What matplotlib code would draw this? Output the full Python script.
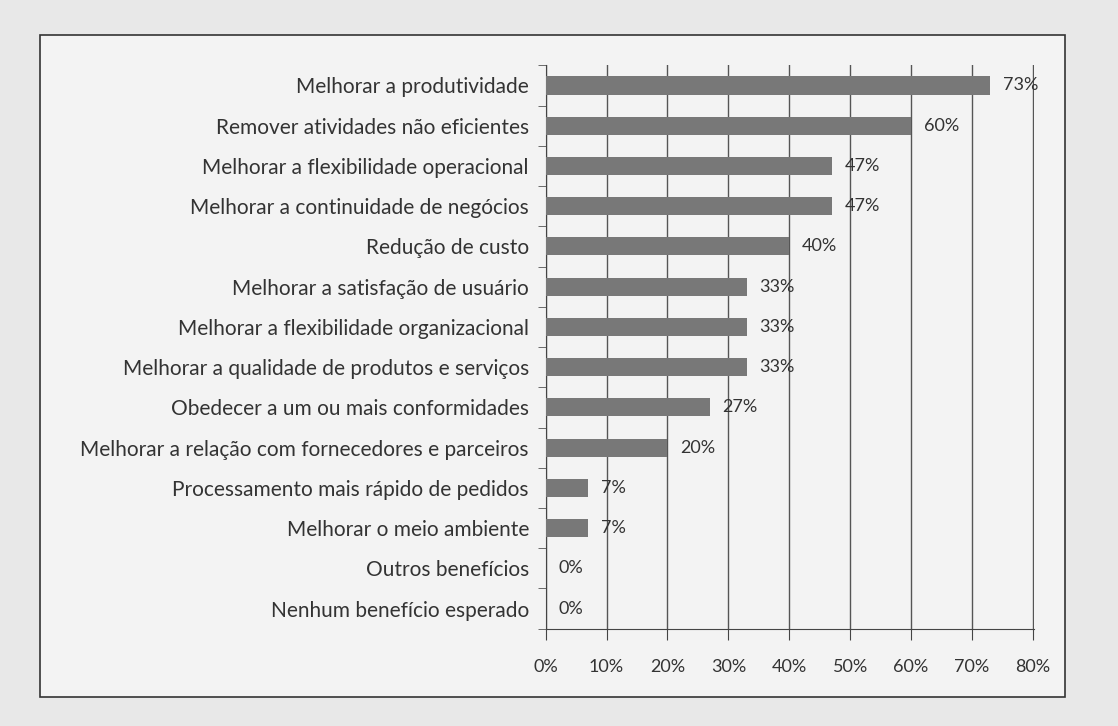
import numpy as np
import matplotlib.pyplot as plt
from matplotlib.patches import Rectangle
from matplotlib.ticker import FixedLocator

# Benefícios esperados (percentual de respostas)
categorias = [
    "Melhorar a produtividade",
    "Remover atividades não eficientes",
    "Melhorar a flexibilidade operacional",
    "Melhorar a continuidade de negócios",
    "Redução de custo",
    "Melhorar a satisfação de usuário",
    "Melhorar a flexibilidade organizacional",
    "Melhorar a qualidade de produtos e serviços",
    "Obedecer a um ou mais conformidades",
    "Melhorar a relação com fornecedores e parceiros",
    "Processamento mais rápido de pedidos",
    "Melhorar o meio ambiente",
    "Outros benefícios",
    "Nenhum benefício esperado",
]
valores = [73, 60, 47, 47, 40, 33, 33, 33, 27, 20, 7, 7, 0, 0]
xticks = [0, 10, 20, 30, 40, 50, 60, 70, 80]

plt.rcParams['font.family'] = ['Lato', 'DejaVu Sans']

fig = plt.figure(figsize=(11.18, 7.26), dpi=100, facecolor='#e8e8e8')
# moldura do gráfico
fig.add_artist(Rectangle((0.036, 0.040), 0.917, 0.912, transform=fig.transFigure,
                         facecolor='#f3f3f3', edgecolor='#333333', linewidth=1.2, zorder=0))

ax = fig.add_axes([0.488, 0.134, 0.437, 0.776])
ax.set_facecolor('none')

y = np.arange(len(categorias))
ax.barh(y, valores, height=0.45, color='#787878', zorder=3)

for yi, v in zip(y, valores):
    ax.annotate(f"{v}%", (v, yi), xytext=(9, 0), textcoords='offset points',
                va='center', ha='left', fontsize=13, color='#333333', zorder=4)

ax.set_ylim(len(categorias) - 0.5, -0.5)
ax.set_xlim(0, 80.2)
ax.set_yticks(y)
ax.set_yticklabels(categorias, fontsize=15, color='#333333')
ax.yaxis.set_minor_locator(FixedLocator(np.arange(-0.5, len(categorias), 1)))
ax.tick_params(axis='y', which='major', length=0, pad=12)
ax.tick_params(axis='y', which='minor', length=6, color='#555555', direction='out')

ax.set_xticks(xticks)
ax.set_xticklabels([f"{t}%" for t in xticks], fontsize=13, color='#333333')
ax.tick_params(axis='x', length=8, color='#444444', pad=14)

ax.grid(axis='x', color='#555555', linewidth=1.0, zorder=1)
for s in ['top', 'right']:
    ax.spines[s].set_visible(False)
ax.spines['left'].set_color('#444444')
ax.spines['bottom'].set_color('#444444')

fig.savefig('out.png', dpi=100, facecolor=fig.get_facecolor())
